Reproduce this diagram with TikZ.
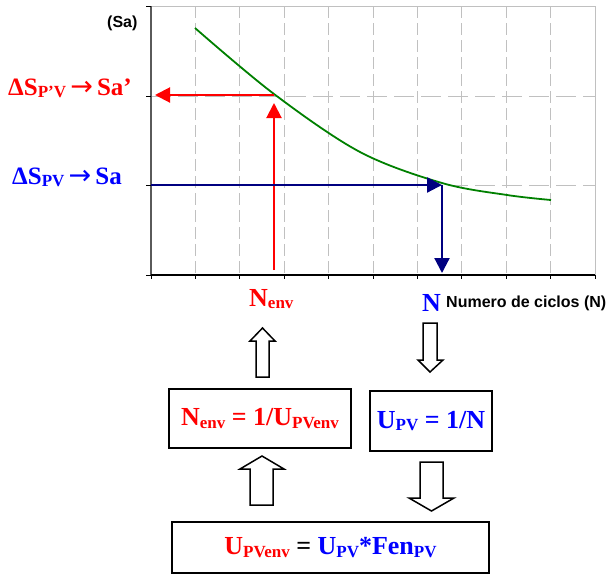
\documentclass[tikz,border=0pt]{standalone}
\usepackage{fontspec}
\setmainfont{Liberation Serif}
\newfontfamily\labelsans{Liberation Sans}
\newfontfamily\arrfont{DejaVu Sans}
\usetikzlibrary{arrows.meta}
\definecolor{gridgray}{RGB}{192,192,192}
\definecolor{navy}{RGB}{0,0,128}
\definecolor{curvegreen}{RGB}{0,128,0}
\definecolor{axisgray}{RGB}{90,90,90}
\newcommand\sbx[1]{\raisebox{-2.5pt}{\fontsize{17}{17}\selectfont #1}}
\newcommand\longarr{\,{\arrfont\mdseries\fontsize{27}{27}\selectfont →}\,}
\begin{document}
\begin{tikzpicture}[x=1pt,y=-1pt,
  gridline/.style={gridgray, line width=0.9pt, dash pattern=on 12pt off 5pt},
  hgridline/.style={gridgray, line width=0.9pt, dash pattern=on 20pt off 7pt},
  redarrow/.style={red, line width=2pt, -{Triangle[length=15pt,width=15pt]}},
  bluearrow/.style={navy, line width=2.2pt, -{Triangle[length=15pt,width=15pt]}},
  bigtext/.style={font=\fontsize{26}{26}\selectfont\bfseries, inner sep=0pt},
  sidetext/.style={font=\fontsize{25}{25}\selectfont\bfseries, inner sep=0pt},
  sanslabel/.style={font=\labelsans\fontsize{16}{16}\selectfont\bfseries, inner sep=0pt},
  formbox/.style={draw=black, line width=2pt, fill=white, inner sep=0pt, font=\fontsize{26}{26}\selectfont\bfseries},
  blockarrow/.style={draw=black, line width=1.5pt, fill=white, line join=miter}]

\useasboundingbox (0,0) rectangle (607,574);

% grid
\foreach \k in {1,...,9} \draw[gridline] ({151+44.4*\k},6) -- ({151+44.4*\k},275);
\foreach \yy in {96,185} \draw[hgridline] (151,\yy) -- (595,\yy);
\draw[gridgray, line width=1pt] (151,6) -- (595,6) -- (595,275);
% axes
\draw[axisgray, line width=1.5pt] (151,6) -- (151,275);
\draw[black, line width=1.5pt] (151,275) -- (595,275);
\foreach \yy in {6,96,185,275} \draw[black, line width=1pt] (146,\yy) -- (151,\yy);
\foreach \k in {0,...,10} \draw[black, line width=1pt] ({151+44.4*\k},275) -- ({151+44.4*\k},279);

% curve
\draw[curvegreen, line width=1.8pt] plot[smooth, tension=0.55] coordinates {(195,28) (274,94) (360,152) (442,183) (507,195) (551,200)};

% coordinates
\coordinate (rbot) at (274,270);
\coordinate (rtip) at (274,103);
\coordinate (rcross) at (274,95);
\coordinate (rleft) at (155,95);
\coordinate (bstart) at (151,185);
\coordinate (bcross) at (442,185);
\coordinate (bbot) at (442,273);

\draw[redarrow] (rbot) -- (rtip);
\draw[redarrow] (rcross) -- (rleft);
\draw[bluearrow] (bstart) -- (bcross);
\draw[bluearrow] (bcross) -- (bbot);

% labels
\node[sanslabel, anchor=base west] (sa) at (107,27) {(Sa)};
\node[sidetext, text=red, anchor=base west] (lblA) at (8,95) {ΔS\sbx{P’V}\longarr Sa’};
\node[sidetext, text=blue, anchor=base west] (lblB) at (12,184) {ΔS\sbx{PV}\longarr Sa};
\node[bigtext, text=red, anchor=base west] (nenv) at (249,306) {N\sbx{env}};
\node[bigtext, text=blue, anchor=base west] (nn) at (422,311) {N};
\node[sanslabel, anchor=base west] (ciclos) at (446,307) {Numero de ciclos (N)};

% boxes
\node[formbox, text=red, minimum width=182pt, minimum height=59pt] (box1) at (260,418.5) {N\sbx{env} = 1/U\sbx{PVenv}};
\node[formbox, text=blue, minimum width=122pt, minimum height=60pt] (box2) at (431,421) {U\sbx{PV} = 1/N};
\node[formbox, minimum width=317pt, minimum height=51pt] (box3) at (330.5,547.5) {\textcolor{red}{U\sbx{PVenv}} = \textcolor{blue}{U\sbx{PV}*Fen\sbx{PV}}};

% block arrows
\draw[blockarrow] (256,377) -- (256,341) -- (250,341) -- (262.5,328) -- (275,341) -- (269,341) -- (269,377) -- cycle;
\draw[blockarrow] (423,323) -- (423,360) -- (418,360) -- (430,372) -- (443,360) -- (437,360) -- (437,323) -- cycle;
\draw[blockarrow] (250,505) -- (250,469) -- (240,469) -- (262,456) -- (284,469) -- (273,469) -- (273,505) -- cycle;
\draw[blockarrow] (420,462) -- (420,498) -- (409,498) -- (431.5,511) -- (454,498) -- (443,498) -- (443,462) -- cycle;
\end{tikzpicture}
\end{document}
